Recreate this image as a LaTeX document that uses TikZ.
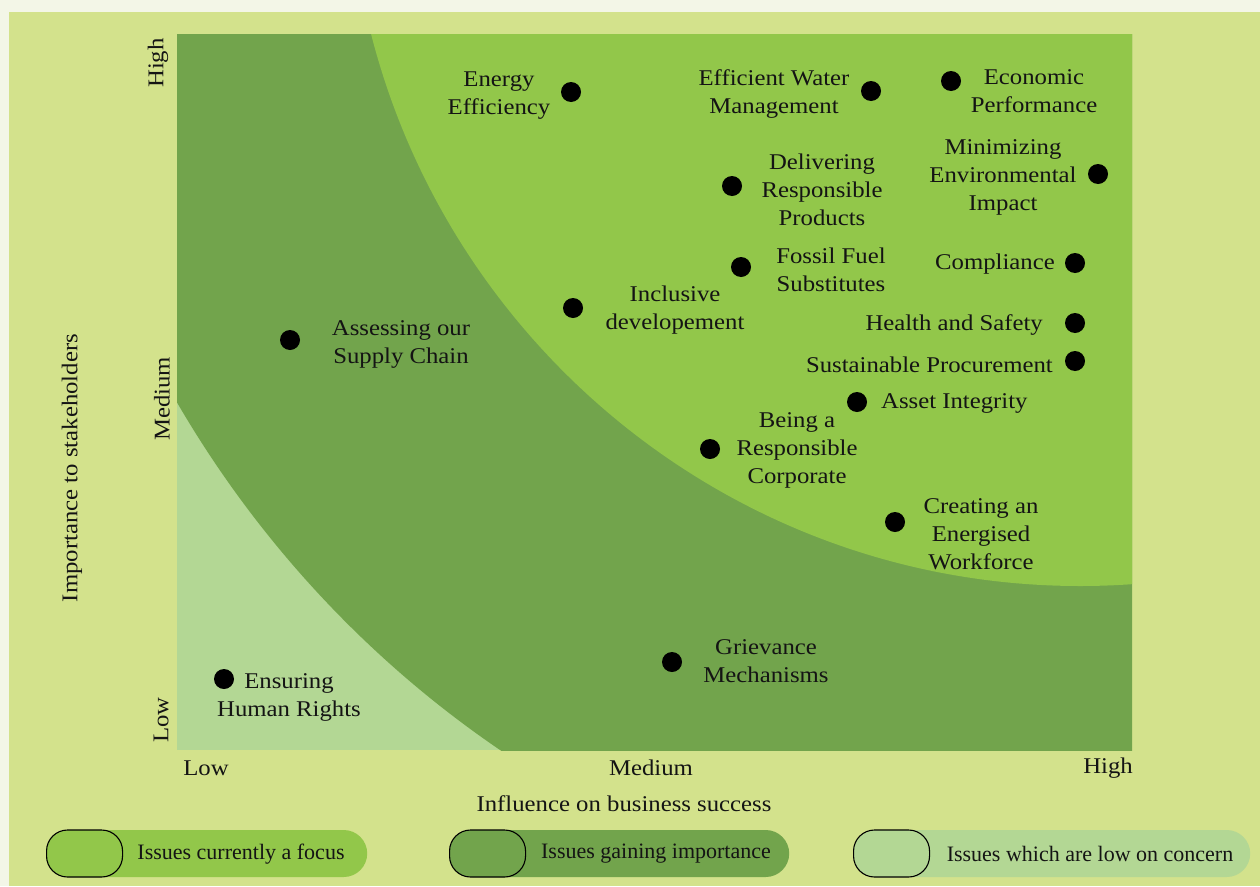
\documentclass[tikz,border=0pt]{standalone}
\usepackage{fontspec}
\usepackage{graphicx}
\setmainfont{Liberation Serif}
\newfontfamily\lblfont[FakeStretch=1.1]{Liberation Serif}
\definecolor{pagebg}{HTML}{F3F6E7}
\definecolor{panel}{HTML}{D3E28C}
\definecolor{darkg}{HTML}{72A44C}
\definecolor{brightg}{HTML}{92C74A}
\definecolor{lightg}{HTML}{B3D794}
\definecolor{txt}{HTML}{141414}
\begin{document}
\begin{tikzpicture}[x=1pt,y=-1pt,
  lbl/.style={font=\lblfont\fontsize{22.5}{28}\selectfont, align=center, inner sep=0pt, text=txt, yshift=-2.5pt},
  axl/.style={font=\lblfont\fontsize{22.5}{28}\selectfont, inner sep=0pt, text=txt, yshift=-2pt},
  ayl/.style={font=\lblfont\fontsize{22.5}{28}\selectfont, inner sep=0pt, text=txt, rotate=90},
  dot/.style={circle, fill=black, minimum size=20pt, inner sep=0pt},
  pill/.style={rounded corners=23.5pt, minimum height=47pt, inner sep=0pt, anchor=west},
  swatch/.style={draw=black, line width=1.1pt, rounded corners=21pt, minimum height=47pt, minimum width=76pt, inner sep=0pt, anchor=west},
  legtxt/.style={font=\fontsize{22}{26}\selectfont, inner sep=0pt, text=txt, yshift=-1pt}]
\useasboundingbox (0,0) rectangle (1260,886);
\fill[pagebg] (0,0) rectangle (1260,886);
\fill[panel] (9,12) rectangle (1260,886);
\begin{scope}
  \clip (177,34) rectangle (1132,750);
  \fill[lightg] (177,34) rectangle (1132,750);
  \fill[darkg] (1080,-150) ellipse [x radius=1051pt, y radius=1079pt];
  \fill[brightg] (1080,-150) ellipse [x radius=732pt, y radius=736pt];
\end{scope}
% axis labels
\node[ayl] (yhigh) at (158,63) {High};
\node[ayl] (ymed) at (162,399) {Medium};
\node[ayl] (ylow) at (161,720) {Low};
\node[ayl] (ytitle) at (72,468) {Importance to stakeholders};
\node[axl] (xlow) at (206,766) {Low};
\node[axl] (xmed) at (651,766) {Medium};
\node[axl] (xhigh) at (1108,766) {High};
\node[axl] (xtitle) at (624,802) {Influence on business success};
% issues
\node[dot] (d1) at (571,92) {};
\node[lbl] (l1) at (499,93) {Energy\\Efficiency};
\node[dot] (d2) at (871,91) {};
\node[lbl] (l2) at (774,92) {Efficient Water\\Management};
\node[dot] (d3) at (951,81) {};
\node[lbl] (l3) at (1034,89) {Economic\\Performance};
\node[dot] (d4) at (732,186) {};
\node[lbl] (l4) at (822,187) {Delivering\\Responsible\\Products};
\node[dot] (d5) at (1098,174) {};
\node[lbl] (l5) at (1003,175) {Minimizing\\Environmental\\Impact};
\node[dot] (d6) at (741,267) {};
\node[lbl] (l6) at (831,267) {Fossil Fuel\\Substitutes};
\node[dot] (d7) at (1075,263) {};
\node[lbl, anchor=east] (l7) at (1055,262) {Compliance};
\node[dot] (d8) at (573,308) {};
\node[lbl] (l8) at (675,308) {Inclusive\\developement};
\node[dot] (d9) at (1075,323) {};
\node[lbl, anchor=east] (l9) at (1043,323) {Health and Safety};
\node[dot] (d10) at (1075,361) {};
\node[lbl, anchor=east] (l10) at (1053,362) {Sustainable Procurement};
\node[dot] (d11) at (857,402) {};
\node[lbl, anchor=west] (l11) at (881,401) {Asset Integrity};
\node[dot] (d12) at (710,449) {};
\node[lbl] (l12) at (797,448) {Being a\\Responsible\\Corporate};
\node[dot] (d13) at (895,522) {};
\node[lbl] (l13) at (981,532) {Creating an\\Energised\\Workforce};
\node[dot] (d14) at (290,340) {};
\node[lbl] (l14) at (401,342) {Assessing our\\Supply Chain};
\node[dot] (d15) at (672,662) {};
\node[lbl] (l15) at (766,659) {Grievance\\Mechanisms};
\node[dot] (d16) at (224,679) {};
\node[lbl] (l16) at (289,695) {Ensuring\\Human Rights};
% legend
\node[pill, fill=brightg, minimum width=321pt] (p1) at (46,853.5) {};
\node[swatch, fill=brightg] (s1) at (46,853.5) {};
\node[legtxt] (t1) at (241,853) {Issues currently a focus};
\node[pill, fill=darkg, minimum width=340pt] (p2) at (449,853.5) {};
\node[swatch, fill=darkg] (s2) at (449,853.5) {};
\node[legtxt] (t2) at (656,853) {Issues gaining importance};
\node[pill, fill=lightg, minimum width=397pt] (p3) at (853,853.5) {};
\node[swatch, fill=lightg] (s3) at (853,853.5) {};
\node[legtxt] (t3) at (1090,853) {Issues which are low on concern};
\end{tikzpicture}
\end{document}
